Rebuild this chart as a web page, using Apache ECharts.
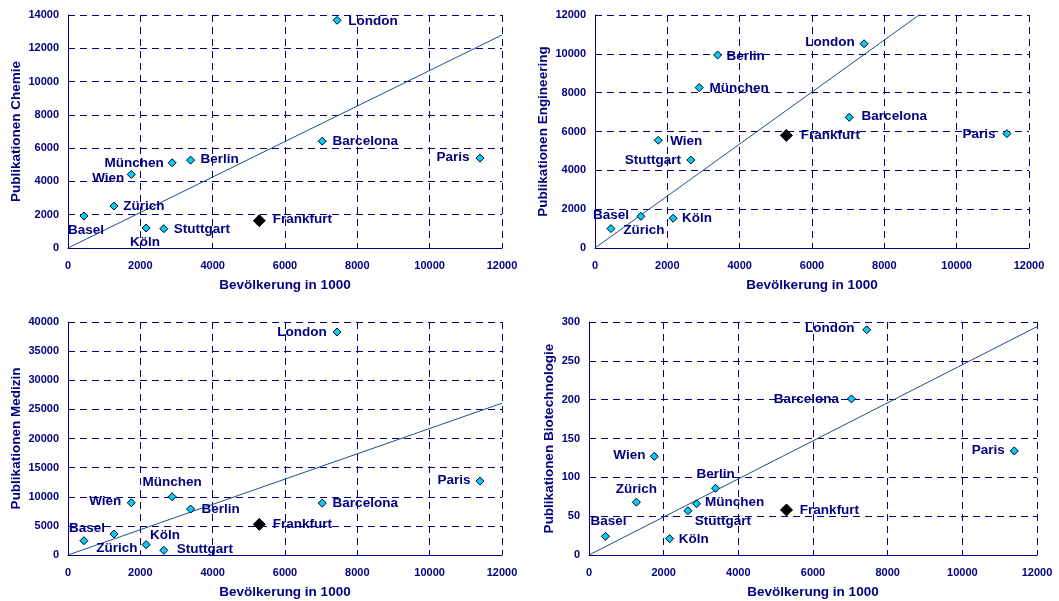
<!DOCTYPE html>
<html>
<head>
<meta charset="utf-8">
<script src="https://cdn.jsdelivr.net/npm/echarts@6/dist/echarts.min.js"></script>
<style>
html,body{margin:0;padding:0;background:#fff;}
#chart{width:1059px;height:601px;}
</style>
</head>
<body>
<div id="chart"></div>
<script>
// ---- data ----
const cities = ['Basel','Zürich','Wien','Köln','Stuttgart','München','Berlin','Frankfurt','Barcelona','London','Paris'];
const population = [440,1270,1750,2160,2650,2880,3390,5290,7030,7440,11390];
const chemie = [1920,2520,4420,1200,1160,5120,5280,1640,6420,13680,5400];
const engineering = [1000,1630,5550,1530,4530,8260,9940,5800,6730,10520,5890];
const medizin = [2450,3600,8970,1770,800,10000,7890,5260,8910,38290,12690];
const biotech = [24,68,127,21,57,66,86,58,201,290,134];
const highlightCity = 'Frankfurt';
// trend line end points (x, y)
const trendX = [0, 12000];
const trendChemie = [0, 12800];
const trendEngineering = [0, 16070];
const trendMedizin = [0, 26060];
const trendBiotech = [0, 294];
const xTicks = [0, 12000, 2000];
const yTicks = [[0,14000,2000],[0,12000,2000],[0,40000,5000],[0,300,50]];
const yNames = ['Publikationen Chemie','Publikationen Engineering','Publikationen Medizin','Publikationen Biotechnologie'];
const xName = 'Bevölkerung in 1000';

// ---- layout / style ----
const NAVY = '#000080';
const FONT = 'Liberation Sans, Arial, sans-serif';
const grids = [
  {left:68, top:15, width:434, height:233},
  {left:595, top:15, width:434, height:233},
  {left:68, top:322, width:434, height:233},
  {left:589, top:322, width:448, height:233}
];
const yNameGap = [45, 45, 45, 33];
// label offsets (px) from point centre, per panel
const labelOffsets = [
  {Basel:[2,14],'Zürich':[30,0],Wien:[-23,4],'Köln':[-1,14],Stuttgart:[38,1],'München':[-38,0],Berlin:[29,-1],Frankfurt:[43,-1],Barcelona:[43,0],London:[36,1],Paris:[-27,-1]},
  {Basel:[0,-13],'Zürich':[3,14],Wien:[28,1],'Köln':[24,0],Stuttgart:[-38,0],'München':[40,1],Berlin:[28,1],Frankfurt:[44,0],Barcelona:[45,-1],London:[-34,-1],Paris:[-28,1]},
  {Basel:[3,-12],'Zürich':[3,14],Wien:[-26,-1],'Köln':[19,-9],Stuttgart:[41,-1],'München':[0,-14],Berlin:[30,0],Frankfurt:[43,0],Barcelona:[43,0],London:[-35,0],Paris:[-26,-1]},
  {Basel:[3,-15],'Zürich':[0,-13],Wien:[-25,-1],'Köln':[24,1],Stuttgart:[35,11],'München':[38,-1],Berlin:[0,-14],Frankfurt:[43,0],Barcelona:[-45,0],London:[-37,-1],Paris:[-26,-1]}
];
const panelValues = [chemie, engineering, medizin, biotech];
const trends = [trendChemie, trendEngineering, trendMedizin, trendBiotech];

const chart = echarts.init(document.getElementById('chart'), null, {renderer:'canvas'});

const xAxes = [], yAxes = [], series = [];
const gridLine = {show:true, lineStyle:{color:NAVY, width:1, type:[7,5]}};
const plain = (v) => String(v);
grids.forEach((g, i) => {
  xAxes.push({
    gridIndex:i, type:'value', min:xTicks[0], max:xTicks[1], interval:xTicks[2],
    name:xName, nameLocation:'middle', nameGap:30,
    nameTextStyle:{color:NAVY, fontFamily:FONT, fontWeight:'bold', fontSize:13.5},
    axisLine:{show:true, onZero:false, lineStyle:{color:NAVY, width:1}},
    axisTick:{show:false},
    axisLabel:{color:NAVY, fontFamily:FONT, fontWeight:'bold', fontSize:11, margin:12, formatter:plain},
    splitLine:gridLine
  });
  yAxes.push({
    gridIndex:i, type:'value', min:yTicks[i][0], max:yTicks[i][1], interval:yTicks[i][2],
    name:yNames[i], nameLocation:'middle', nameGap:yNameGap[i], nameRotate:90,
    nameTextStyle:{color:NAVY, fontFamily:FONT, fontWeight:'bold', fontSize:13.5},
    axisLine:{show:true, onZero:false, lineStyle:{color:NAVY, width:1}},
    axisTick:{show:false},
    axisLabel:{color:NAVY, fontFamily:FONT, fontWeight:'bold', fontSize:11, margin:9, formatter:plain},
    splitLine:gridLine
  });
  const vals = panelValues[i];
  const offs = labelOffsets[i];
  const mk = (idx) => ({
    name:cities[idx], value:[population[idx], vals[idx]],
    label:{offset:offs[cities[idx]]}
  });
  const normal = [], hi = [];
  cities.forEach((c, idx) => { (c === highlightCity ? hi : normal).push(mk(idx)); });
  const lbl = {show:true, position:'inside', formatter:'{b}', color:NAVY, fontFamily:FONT, fontWeight:'bold', fontSize:13.5, align:'center', verticalAlign:'middle'};
  series.push({
    type:'line', xAxisIndex:i, yAxisIndex:i, data:trendX.map((x,k)=>[x, trends[i][k]]),
    showSymbol:false, symbol:'none', lineStyle:{color:'#1f4f86', width:1}, clip:true, silent:true, z:2
  });
  series.push({
    type:'scatter', xAxisIndex:i, yAxisIndex:i, data:normal, symbol:'diamond', symbolSize:8,
    itemStyle:{color:'#00CCFF', borderColor:'#000', borderWidth:1, opacity:1}, label:lbl, z:3
  });
  series.push({
    type:'scatter', xAxisIndex:i, yAxisIndex:i, data:hi, symbol:'diamond', symbolSize:12,
    itemStyle:{color:'#000', borderColor:'#000', borderWidth:1, opacity:1}, label:lbl, z:3
  });
});

chart.setOption({
  animation:false,
  backgroundColor:'#fff',
  grid:grids,
  xAxis:xAxes,
  yAxis:yAxes,
  series:series
});
</script>
</body>
</html>
